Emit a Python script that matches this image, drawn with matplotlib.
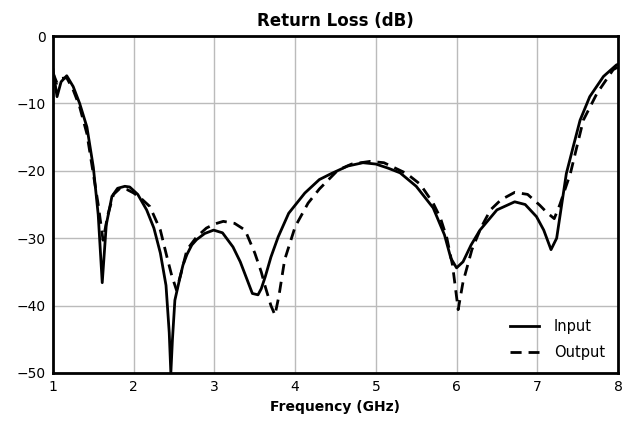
import matplotlib
matplotlib.use("Agg")
import matplotlib.pyplot as plt

f_in = [1.00, 1.05, 1.10, 1.17, 1.25, 1.33, 1.42, 1.50, 1.56, 1.61, 1.66, 1.73, 1.80, 1.89, 1.95,
        2.05, 2.16, 2.25, 2.33, 2.40, 2.44, 2.46, 2.48, 2.51, 2.57, 2.61, 2.66, 2.72, 2.78, 2.88,
        2.99, 3.10, 3.23, 3.32, 3.40, 3.47, 3.54, 3.58, 3.63, 3.70, 3.79, 3.92, 4.12, 4.30, 4.45,
        4.65, 4.84, 5.00, 5.15, 5.30, 5.50, 5.71, 5.85, 5.93, 6.00, 6.08, 6.18, 6.29, 6.50, 6.72,
        6.85, 6.99, 7.08, 7.17, 7.24, 7.36, 7.45, 7.53, 7.65, 7.82, 7.98, 8.00]
v_in = [-5.0, -9.0, -6.8, -5.9, -7.5, -10.0, -13.5, -19.5, -26.5, -36.6, -28.0, -23.8, -22.6, -22.3, -22.4,
        -23.5, -25.8, -28.5, -32.2, -37.0, -44.0, -50.0, -45.0, -39.2, -36.0, -34.0, -32.4, -31.0, -30.2, -29.3,
        -28.8, -29.2, -31.3, -33.5, -36.0, -38.2, -38.4, -37.5, -35.7, -32.8, -29.8, -26.3, -23.3, -21.3, -20.4,
        -19.3, -18.8, -19.0, -19.6, -20.3, -22.3, -25.5, -29.5, -33.0, -34.4, -33.5, -31.0, -28.8, -25.8, -24.6,
        -25.0, -26.8, -28.8, -31.7, -30.0, -20.4, -16.2, -12.5, -9.0, -6.0, -4.3, -4.2]

f_out = [1.00, 1.05, 1.10, 1.17, 1.25, 1.33, 1.42, 1.50, 1.56, 1.62, 1.68, 1.75, 1.83, 1.92, 2.00,
         2.10, 2.20, 2.33, 2.41, 2.47, 2.53, 2.58, 2.66, 2.78, 2.90, 3.00, 3.11, 3.25, 3.38, 3.50,
         3.58, 3.63, 3.70, 3.75, 3.80, 3.87, 4.00, 4.16, 4.30, 4.53, 4.70, 4.93, 5.10, 5.38, 5.55,
         5.71, 5.80, 5.88, 5.95, 6.02, 6.08, 6.19, 6.30, 6.42, 6.55, 6.72, 6.88, 7.03, 7.12, 7.21,
         7.28, 7.41, 7.57, 7.74, 7.94, 8.00]
v_out = [-5.5, -7.0, -6.3, -6.2, -8.0, -10.5, -14.5, -20.5, -25.0, -30.3, -26.5, -23.5, -22.6, -22.8, -23.3,
         -24.2, -25.3, -28.8, -32.7, -35.5, -37.7, -35.5, -31.7, -29.8, -28.5, -27.9, -27.5, -27.8, -28.8, -32.2,
         -35.0, -37.2, -40.0, -41.4, -38.5, -33.2, -28.3, -24.8, -22.7, -19.9, -19.0, -18.6, -18.8, -20.4, -22.0,
         -24.8, -27.0, -30.0, -34.0, -40.6, -36.5, -31.7, -28.5, -25.8, -24.3, -23.2, -23.5, -25.1, -26.2, -27.1,
         -25.0, -20.4, -12.5, -8.5, -5.0, -4.6]

x_ticks = [1, 2, 3, 4, 5, 6, 7, 8]
y_ticks = [0, -10, -20, -30, -40, -50]

fig = plt.figure(figsize=(6.31, 4.25), dpi=100)
ax = fig.add_axes([53/631, 1-373/425, (618-53)/631, (373-36)/425])

ax.plot(f_in, v_in, color="black", linewidth=2, linestyle="-", label="Input")
ax.plot(f_out, v_out, color="black", linewidth=2, linestyle=(0, (4, 2.5)), label="Output")

ax.set_xlim(1, 8)
ax.set_ylim(-50, 0)
ax.set_xticks(x_ticks)
ax.set_yticks(y_ticks)
ax.set_yticklabels(["0", "\u221210", "\u221220", "\u221230", "\u221240", "\u221250"])
ax.grid(True, color="#bbbbbb", linewidth=1)
ax.set_axisbelow(True)
ax.tick_params(length=0, labelsize=10, pad=5)
for s in ax.spines.values():
    s.set_linewidth(2)
    s.set_color("black")

ax.set_title("Return Loss (dB)", fontsize=12, fontweight="bold", pad=7)
ax.set_xlabel("Frequency (GHz)", fontsize=10, fontweight="bold", labelpad=4)
ax.legend(loc="lower right", frameon=False, fontsize=10.5, handlelength=2.0,
          handletextpad=1.0, labelspacing=0.75)

fig.savefig("out.png", dpi=100)
